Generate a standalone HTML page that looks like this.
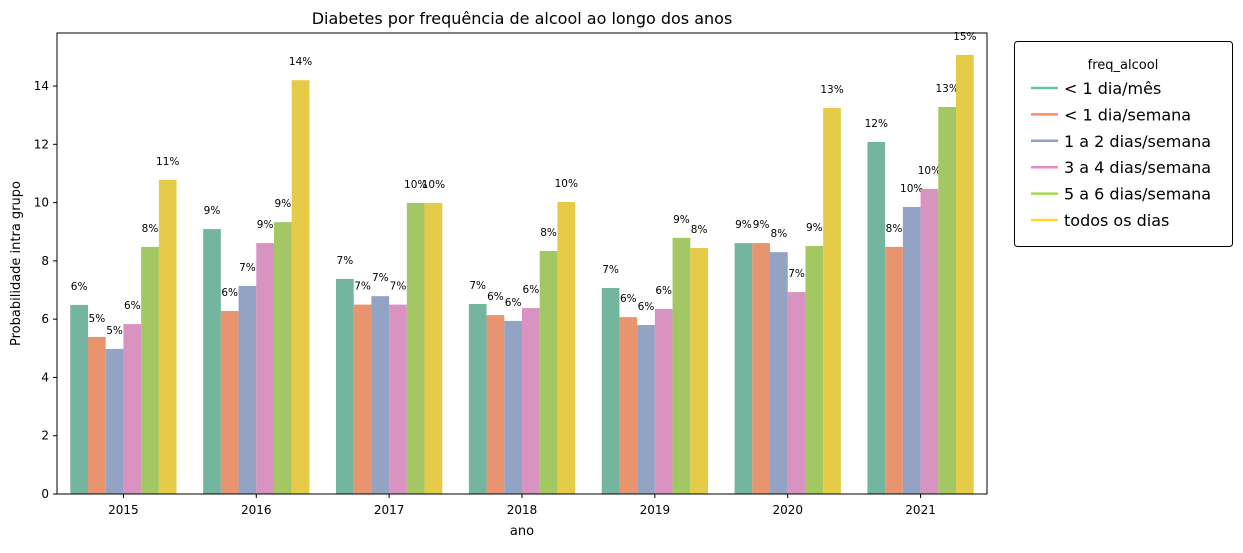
<!DOCTYPE html>
<html><head><meta charset="utf-8"><style>
body{margin:0;background:#fff;font-family:"Liberation Sans","DejaVu Sans",sans-serif;}
svg text{font-family:"DejaVu Sans","Liberation Sans",sans-serif;}
</style></head><body>
<svg id="c" width="1243" height="548" xmlns="http://www.w3.org/2000/svg"></svg>
<script>
const categories=["2015","2016","2017","2018","2019","2020","2021"];
const seriesNames=["< 1 dia/mês","< 1 dia/semana","1 a 2 dias/semana","3 a 4 dias/semana","5 a 6 dias/semana","todos os dias"];
const s0=[6.49,9.09,7.38,6.52,7.07,8.61,12.08];
const s1=[5.39,6.28,6.5,6.14,6.07,8.61,8.48];
const s2=[4.98,7.14,6.79,5.94,5.80,8.30,9.85];
const s3=[5.83,8.61,6.5,6.38,6.35,6.93,10.47];
const s4=[8.48,9.33,9.99,8.34,8.79,8.51,13.28];
const s5=[10.78,14.20,9.99,10.02,8.44,13.25,15.07];
const yTicks=[0,2,4,6,8,10,12,14];
const series=[s0,s1,s2,s3,s4,s5];
const barColors=["#74b59f","#e8956f","#93a3c3","#d993c0","#a3c763","#e5cb48"];
const lineColors=["#66c2a5","#fc8d62","#8da0cb","#e78ac3","#a6d854","#ffd92f"];
const svg=document.getElementById('c');const NS="http://www.w3.org/2000/svg";
function mk(t,a,txt){const e=document.createElementNS(NS,t);for(const k in a)e.setAttribute(k,a[k]);if(txt!==undefined)e.textContent=txt;svg.appendChild(e);return e;}
const L=57,R=987,T=33,B=494,yMax=15.82;
const y=v=>B-(v/yMax)*(B-T);
const groupW=(R-L)/categories.length;
const x=i=>L+groupW*(i+0.5);
const bw=groupW*0.8/6;
let e;
categories.forEach((c,i)=>{
 series.forEach((s,j)=>{
  const bx=x(i)-groupW*0.4+j*bw;
  e=mk('rect',{x:bx,y:y(s[i]),width:bw,height:B-y(s[i]),fill:barColors[j]});
  
  
  e=mk('text',{x:bx+bw/2,y:y(s[i])-15,'font-size':10.5,'text-anchor':'middle',fill:'#000'},Math.round(s[i])+'%');
  
  
 });
 mk('line',{x1:x(i),x2:x(i),y1:B,y2:B+4,stroke:'#000'});
 e=mk('text',{x:x(i),y:B+20,'font-size':12,'text-anchor':'middle'},c);
 
 
});
yTicks.forEach(t=>{
 mk('line',{x1:L-4,x2:L,y1:y(t),y2:y(t),stroke:'#000'});
 e=mk('text',{x:L-8,y:y(t)+4,'font-size':12,'text-anchor':'end'},t);
 
 
});
e=mk('rect',{x:L,y:T,width:R-L,height:B-T,fill:'none',stroke:'#000','stroke-width':1});

e=mk('text',{x:(L+R)/2,y:24,'font-size':16,'text-anchor':'middle'},'Diabetes por frequência de alcool ao longo dos anos');

e=mk('text',{x:(L+R)/2,y:535,'font-size':13,'text-anchor':'middle'},'ano');

e=mk('text',{x:20,y:(T+B)/2,'font-size':13,'text-anchor':'middle',transform:'rotate(-90 20 '+((T+B)/2)+')'},'Probabilidade intra grupo');

e=mk('rect',{x:1014.5,y:41.5,width:218,height:205,rx:3,fill:'#fff',stroke:'#000'});

e=mk('text',{x:1123,y:69,'font-size':13,'text-anchor':'middle'},'freq_alcool');

seriesNames.forEach((n,j)=>{
 const ly=88+j*26.4;
 mk('line',{x1:1031,x2:1058,y1:ly,y2:ly,stroke:lineColors[j],'stroke-width':2.5});
 e=mk('text',{x:1064,y:ly+6,'font-size':16},n);
 
 
});
</script>
</body></html>
